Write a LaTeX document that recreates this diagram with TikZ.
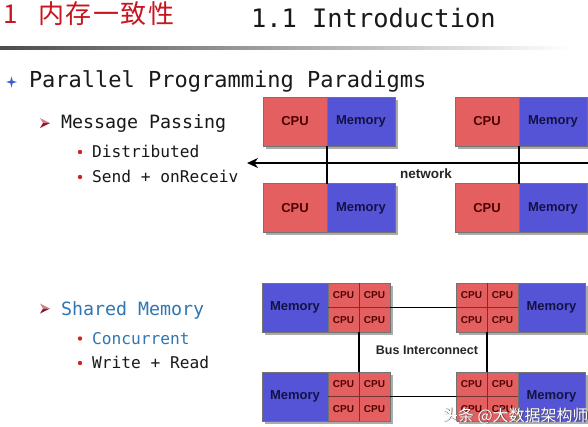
\documentclass[tikz,border=0pt]{standalone}
\usepackage{fontspec}
\setmainfont{Liberation Sans}
\newfontfamily\monof{DejaVu Sans Mono}
\newfontfamily\cjkf{Noto Sans CJK SC}
\newfontfamily\cjkt{Noto Sans CJK SC}[LetterSpace=6]
\usetikzlibrary{arrows.meta,shadows}
\definecolor{cpured}{RGB}{228,96,96}
\definecolor{memblue}{RGB}{86,84,214}
\definecolor{cputxt}{RGB}{80,0,0}
\definecolor{memtxt}{RGB}{18,18,70}
\definecolor{titlered}{RGB}{200,22,32}
\definecolor{slideblue}{RGB}{48,118,178}
\definecolor{starblue}{RGB}{60,95,205}
\definecolor{dotred}{RGB}{210,35,35}
\definecolor{bulletdark}{RGB}{150,20,45}
\definecolor{bulletlight}{RGB}{205,130,140}
\definecolor{txtblack}{RGB}{25,25,25}
\newcommand\cpugrid[1]{%
  \draw[divline] (#1.north) -- (#1.south) (#1.west) -- (#1.east);
  \path (#1.center) ++(-15.5,-12.25) node[smallcpu] (#1a) {CPU}
        (#1.center) ++(15.5,-12.25) node[smallcpu] (#1b) {CPU}
        (#1.center) ++(-15.5,12.25) node[smallcpu] (#1c) {CPU}
        (#1.center) ++(15.5,12.25) node[smallcpu] (#1d) {CPU};}
\newcommand\arrowbul[2]{%
  \fill[bulletlight] (#1-3,#2-5) -- (#1+7,#2) -- (#1,#2) -- cycle;
  \fill[bulletdark] (#1,#2) -- (#1+7,#2) -- (#1-3,#2+5) -- cycle;}
\begin{document}
\begin{tikzpicture}[x=1pt,y=-1pt,
  txt/.style={inner sep=0pt, outer sep=0pt, anchor=base west, text=txtblack},
  boxbase/.style={draw=black!55, line width=0.5pt, inner sep=0pt, outer sep=0pt,
    minimum height=49pt, font=\bfseries\fontsize{13}{15}\selectfont,
    drop shadow={shadow xshift=2.5pt, shadow yshift=-2.5pt, fill=black!60, opacity=.55}},
  cpubox/.style={boxbase, fill=cpured, text=cputxt},
  membox/.style={boxbase, fill=memblue, text=memtxt},
  gridbox/.style={boxbase, fill=cpured, minimum width=62pt},
  divline/.style={line width=0.8pt, draw=cputxt!80},
  smallcpu/.style={inner sep=0pt, font=\bfseries\fontsize{10}{12}\selectfont, text=cputxt},
  wire/.style={line width=1.8pt, draw=black},
  lbl/.style={inner sep=0pt, font=\bfseries\fontsize{12.5}{14}\selectfont, text=black!85}]
\useasboundingbox (0,0) rectangle (588,426);
\fill[white] (0,0) rectangle (588,426);

% title
\node[txt, font=\cjkf\fontsize{26}{30}\selectfont, text=titlered] (t1) at (3,23.5) {1};
\node[txt, font=\cjkt\fontsize{26}{30}\selectfont, text=titlered] (t2) at (38,23.5) {内存一致性};
\node[txt, font=\monof\fontsize{25.4}{30}\selectfont] (t3) at (251,27) {1.1 Introduction};
\shade[left color=black!70, right color=white] (0,46) rectangle (572,49.5);

% bullets text
\fill[starblue] (11.5,76.5) -- (12.7,80.8) -- (17,82) -- (12.7,83.2) -- (11.5,87.5) -- (10.3,83.2) -- (6,82) -- (10.3,80.8) -- cycle;
\node[txt, font=\monof\fontsize{22}{26}\selectfont] (p1) at (29,87.5) {Parallel Programming Paradigms};
\arrowbul{43}{123}
\node[txt, font=\monof\fontsize{18.3}{22}\selectfont] (p2) at (61,128) {Message Passing};
\fill[dotred] (80,152) circle (2.2);
\node[txt, font=\monof\fontsize{16.2}{20}\selectfont] (p3) at (92,157) {Distributed};
\fill[dotred] (80,177) circle (2.2);
\node[txt, font=\monof\fontsize{16.2}{20}\selectfont] (p4) at (92,182.5) {Send + onReceiv};
\arrowbul{43}{308.5}
\node[txt, font=\monof\fontsize{18.3}{22}\selectfont, text=slideblue] (p5) at (61,315) {Shared Memory};
\fill[dotred] (80,338.5) circle (2.2);
\node[txt, font=\monof\fontsize{16.2}{20}\selectfont, text=slideblue] (p6) at (92,344) {Concurrent};
\fill[dotred] (80,363) circle (2.2);
\node[txt, font=\monof\fontsize{16.2}{20}\selectfont] (p7) at (92,368.5) {Write + Read};

% message passing diagram
\node[cpubox, minimum width=64pt] (c1) at (295,121.5) {CPU};
\node[membox, minimum width=68pt] (m1) at (361,121.5) {Memory};
\node[cpubox, minimum width=64pt] (c2) at (487,121.5) {CPU};
\node[membox, minimum width=68pt] (m2) at (553,121.5) {Memory};
\node[cpubox, minimum width=64pt] (c3) at (295,208) {CPU};
\node[membox, minimum width=68pt] (m3) at (361,208) {Memory};
\node[cpubox, minimum width=64pt] (c4) at (487,208) {CPU};
\node[membox, minimum width=68pt] (m4) at (553,208) {Memory};
\coordinate (netR) at (590,163);
\coordinate (netL) at (247,163);
\draw[wire, -{Stealth[length=11pt,width=10pt]}] (netR) -- (netL);
\draw[wire] (m1.south west) -- (m3.north west);
\draw[wire] (m2.south west) -- (m4.north west);
\node[lbl, font=\bfseries\fontsize{13.5}{15}\selectfont] (net) at (426,173.5) {network};

% shared memory diagram
\node[membox, minimum width=66pt] (s1) at (295,307.5) {Memory};
\node[gridbox] (g1) at (359,307.5) {};
\node[gridbox] (g2) at (487,307.5) {};
\node[membox, minimum width=67pt] (s2) at (551.5,307.5) {Memory};
\node[membox, minimum width=66pt] (s3) at (295,396.5) {Memory};
\node[gridbox] (g3) at (359,396.5) {};
\node[gridbox] (g4) at (487,396.5) {};
\node[membox, minimum width=67pt] (s4) at (551.5,396.5) {Memory};
\cpugrid{g1}\cpugrid{g2}\cpugrid{g3}\cpugrid{g4}
\draw[wire] (g1.east) -- (g2.west);
\draw[wire] (g3.east) -- (g4.west);
\draw[wire] (g1.south) -- (g3.north);
\draw[wire] (g2.south) -- (g4.north);
\node[lbl] (bus) at (427,350) {Bus Interconnect};

% watermark
\node[txt, font=\cjkf\fontsize{16}{18}\selectfont, text=black!70] (wm0) at (442.8,421.8) {头条 @大数据架构师};
\node[txt, font=\cjkf\fontsize{16}{18}\selectfont, text=white] (wm) at (442,421) {头条 @大数据架构师};
\end{tikzpicture}
\end{document}
